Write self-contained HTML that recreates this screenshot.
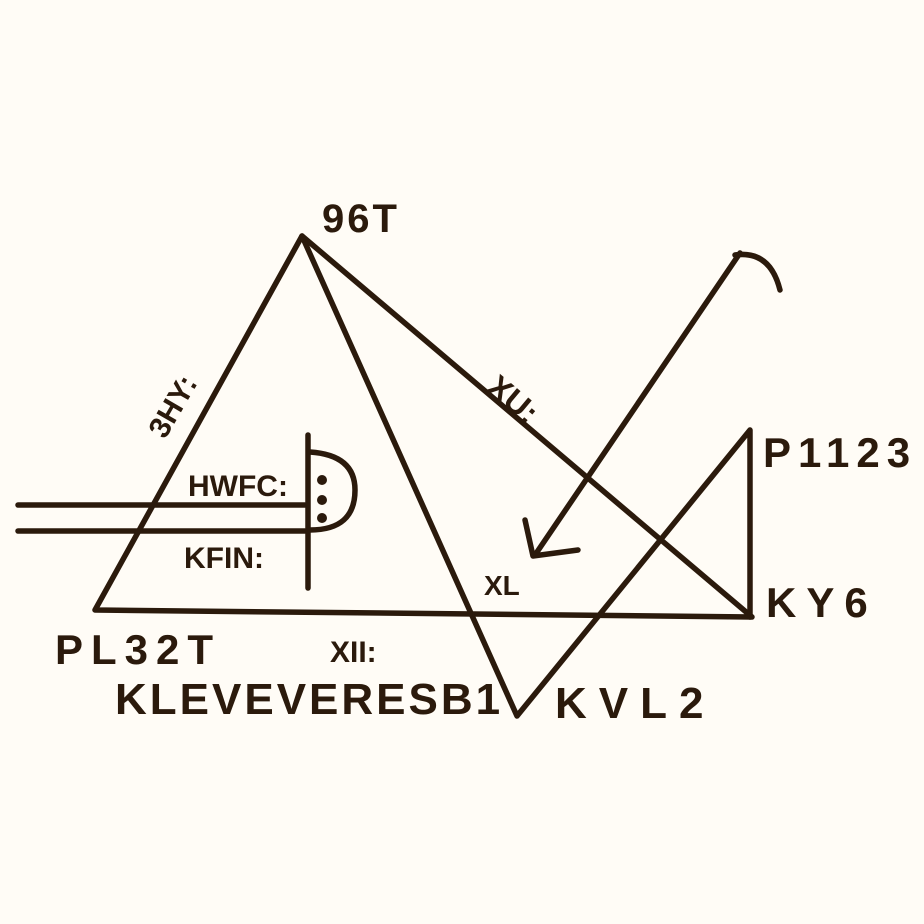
<!DOCTYPE html>
<html><head><meta charset="utf-8"><style>
html,body{margin:0;padding:0;background:#fffcf6;}
svg{display:block}
text{font-family:"Liberation Sans",sans-serif;font-weight:bold;fill:#2b1a0c;}
</style></head><body>
<svg width="924" height="924" viewBox="0 0 924 924" xmlns="http://www.w3.org/2000/svg">
<g fill="none" stroke="#2b1a0c" stroke-width="5.5" stroke-linecap="round" stroke-linejoin="round">
<path d="M302,236 L95,610 L752,617 L302,236"/>
<path d="M302,236 L517,716 L750,430 L750,617"/>
<path d="M740,253 L535,555"/>
<path d="M525,520 L533,556 L578,550"/>
<path d="M735,255 Q770,250 780,290"/>
<path d="M18,505 L305,505"/>
<path d="M18,531 L305,531"/>
<path d="M308,435 L308,588"/>
<path d="M310,452 Q355,455 355,490 Q355,530 310,530"/>
</g>
<g fill="#2b1a0c">
<circle cx="322" cy="480" r="5"/><circle cx="322" cy="500" r="5"/><circle cx="322" cy="518" r="5"/>
</g>
<text x="322" y="232" font-size="40" letter-spacing="3">96T</text>
<text x="763" y="467" font-size="42" letter-spacing="7">P1123</text>
<text x="766" y="617" font-size="42" letter-spacing="10">KY6</text>
<text x="55" y="664" font-size="42" letter-spacing="8">PL32T</text>
<text x="115" y="714" font-size="44" letter-spacing="3">KLEVEVERESB1</text>
<text x="555" y="718" font-size="44" letter-spacing="12">KVL2</text>
<text x="188" y="496" font-size="30">HWFC:</text>
<text x="184" y="568" font-size="30">KFIN:</text>
<text x="330" y="662" font-size="30">XII:</text>
<text x="484" y="595" font-size="28">XL</text>
<text transform="translate(485,390) rotate(40)" font-size="32">XU:</text>
<text transform="translate(165,440) rotate(-60)" font-size="30">3HY:</text>
</svg>
</body></html>
